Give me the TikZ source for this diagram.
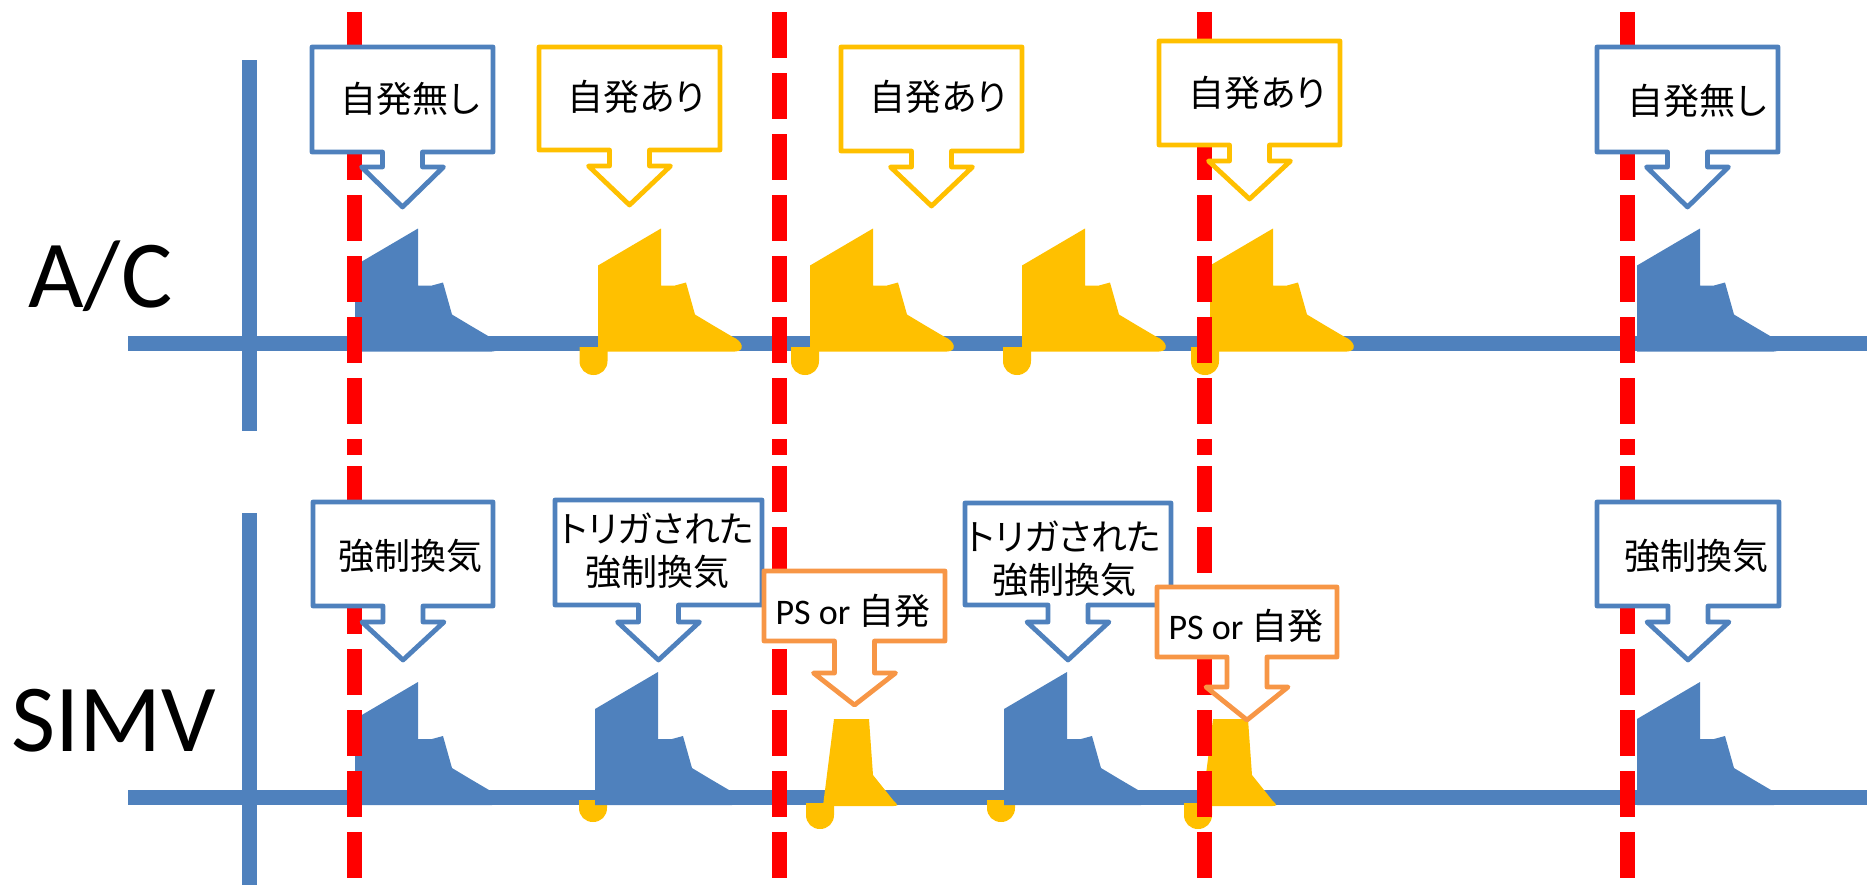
\documentclass[tikz,border=0pt]{standalone}
\usepackage{fontspec}
\setmainfont{Carlito}
\newfontfamily\jp[RawFeature={+palt}]{Noto Sans CJK JP}
\definecolor{axblue}{RGB}{79,129,189}
\definecolor{ylw}{RGB}{255,192,0}
\definecolor{org}{RGB}{247,150,70}
\tikzset{
  callbox/.style={draw=#1, line width=2.4pt, fill=white, line join=round},
  axisline/.style={draw=axblue, line width=7.5pt},
  redline/.style={draw=red, line width=7.5pt, dash pattern=on 23pt off 7.5pt},
  lbl/.style={font=\jp\fontsize{18}{21.5}\selectfont, inner sep=0pt, align=center},
  lblmix/.style={font=\fontsize{18}{21.5}\selectfont, inner sep=0pt},
  big/.style={font=\fontsize{48}{56}\selectfont, inner sep=0pt, anchor=base west}
}
% waveform body: x0, baseline, colour, extra height
\newcommand\wavebody[4]{%
  \fill[#3] (#1,#2+8) -- (#1,#2-78-#4) -- (#1+63,#2-115-#4) -- (#1+63,#2-58) -- (#1+77,#2-58)
    -- (#1+88,#2-61) -- (#1+97,#2-29) -- (#1+117,#2-17) -- (#1+134,#2-7)
    .. controls (#1+146,#2-2) and (#1+147,#2+8) .. (#1+137,#2+8) -- cycle;}
% trigger blip: centre x, top, bottom
\newcommand\blip[3]{%
  \fill[ylw] (#1-14,#2) -- (#1+14,#2) -- (#1+14,#3-14)
    .. controls (#1+14,#3-6) and (#1+8,#3) .. (#1,#3)
    .. controls (#1-8,#3) and (#1-14,#3-6) .. (#1-14,#3-14) -- cycle;}
% pressure support body: left bottom x
\newcommand\psbody[1]{%
  \fill[ylw] (#1,806) -- (#1+11,719) -- (#1+46,719) -- (#1+50,775) -- (#1+70,800)
    .. controls (#1+76,806) .. (#1+68,806) -- cycle;}
% arrow callout: colour, left, top, right, bottom, head y, tip y
\newcommand\callout[7]{%
  \pgfmathsetmacro\mycx{(#2+#4)/2}
  \draw[callbox=#1] (#2,#3) -- (#4,#3) -- (#4,#5) -- (\mycx+20,#5) -- (\mycx+20,#6)
    -- (\mycx+41,#6) -- (\mycx,#7) -- (\mycx-41,#6) -- (\mycx-20,#6) -- (\mycx-20,#5)
    -- (#2,#5) -- cycle;}
\begin{document}
\begin{tikzpicture}[x=0.5pt,y=-0.5pt]
\useasboundingbox (0,0) rectangle (1876,885);
% axes
\coordinate (ay1) at (249.5,60);   \coordinate (ay2) at (249.5,431);
\coordinate (ax1) at (128,343.5);  \coordinate (ax2) at (1867,343.5);
\coordinate (sy1) at (249.5,513);  \coordinate (sy2) at (249.5,885);
\coordinate (sx1) at (128,797);    \coordinate (sx2) at (1867,797);
\draw[axisline] (ay1) -- (ay2);
\draw[axisline] (ax1) -- (ax2);
\draw[axisline] (sy1) -- (sy2);
\draw[axisline] (sx1) -- (sx2);
% blips
\blip{593.5}{347}{375}
\blip{805}{347}{375}
\blip{1017}{347}{375}
\blip{1205}{347}{375}
\blip{593}{800}{822}
\blip{1001}{800}{822}
\blip{820}{803}{829}
\blip{1198}{803}{829}
% A/C waves
\wavebody{355}{343.5}{axblue}{0}
\wavebody{598}{343.5}{ylw}{0}
\wavebody{810}{343.5}{ylw}{0}
\wavebody{1022}{343.5}{ylw}{0}
\wavebody{1210}{343.5}{ylw}{0}
\wavebody{1637}{343.5}{axblue}{0}
% SIMV waves
\wavebody{355}{797}{axblue}{0}
\wavebody{595}{797}{axblue}{10}
\psbody{823}
\wavebody{1004}{797}{axblue}{10}
\psbody{1202}
\wavebody{1637}{797}{axblue}{0}
% red dashed lines
\foreach \rx/\rn in {354/a,779/b,1204/c,1627/d}{
  \coordinate (r\rn1) at (\rx,12);  \coordinate (r\rn2) at (\rx,455);
  \coordinate (r\rn3) at (\rx,466); \coordinate (r\rn4) at (\rx,885);
  \draw[redline] (r\rn1) -- (r\rn2);
  \draw[redline] (r\rn3) -- (r\rn4);
}
% callouts A/C
\callout{axblue}{312}{47}{493}{152}{167}{207}
\node[lbl] (t1) at (410,99) {自発無し};
\callout{ylw}{539}{47}{720}{150}{166}{205}
\node[lbl] (t2) at (636,97) {自発あり};
\callout{ylw}{841}{47}{1022}{151}{167}{206}
\node[lbl] (t3) at (938,97) {自発あり};
\callout{ylw}{1159}{41}{1340}{145}{161}{199}
\node[lbl] (t4) at (1257,93) {自発あり};
\callout{axblue}{1597}{47}{1778}{152}{167}{207}
\node[lbl] (t5) at (1697,101) {自発無し};
% callouts SIMV
\callout{axblue}{313}{502}{493}{606}{622}{660}
\node[lbl] (t6) at (410,556) {強制換気};
\callout{axblue}{555}{500}{762}{605}{622}{660}
\node[lbl] (t7) at (657,550.5) {トリガされた\\強制換気};
\callout{org}{764}{571}{945}{641}{673}{705}
\node[lblmix] (t8) at (853,611) {PS or {\jp 自発}};
\callout{axblue}{965}{503}{1171}{605}{622}{660}
\node[lbl] (t9) at (1064,558.5) {トリガされた\\強制換気};
\callout{org}{1157}{587}{1337}{657}{687}{720}
\node[lblmix] (t10) at (1246,626) {PS or {\jp 自発}};
\callout{axblue}{1597}{502}{1779}{606}{622}{660}
\node[lbl] (t11) at (1696,556) {強制換気};
% mode labels
\node[big] (ac) at (28,307) {A/C};
\node[big] (simv) at (11,751) {SIMV};
\end{tikzpicture}
\end{document}
